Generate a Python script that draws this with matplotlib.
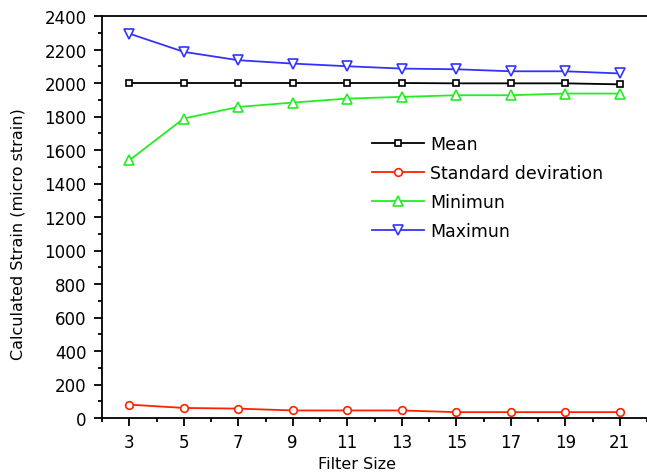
import matplotlib
matplotlib.use("Agg")
import matplotlib.pyplot as plt
from matplotlib.ticker import MultipleLocator

filter_size = [3, 5, 7, 9, 11, 13, 15, 17, 19, 21]
mean_vals = [2000, 2000, 2000, 2000, 2000, 2000, 1998, 1998, 1998, 1992]
std_vals = [80, 60, 56, 45, 45, 45, 35, 35, 35, 35]
min_vals = [1538, 1788, 1857, 1883, 1907, 1917, 1927, 1927, 1937, 1937]
max_vals = [2295, 2186, 2136, 2116, 2100, 2086, 2082, 2070, 2070, 2057]

plt.rcParams['font.family'] = ['DejaVu Sans']

fig = plt.figure(figsize=(6.47, 4.77), dpi=100)
ax = fig.add_axes([102 / 647, 1 - 419 / 477, 545 / 647, 402 / 477])

series = [
    (mean_vals, 'Mean', 'black', 's', 4.5),
    (std_vals, 'Standard deviration', '#ff2200', 'o', 5.5),
    (min_vals, 'Minimun', '#22ee22', '^', 6.5),
    (max_vals, 'Maximun', '#3333ff', 'v', 6.5),
]
for vals, lab, col, mk, ms in series:
    ax.plot(filter_size, vals, color=col, lw=1.3, marker=mk, markersize=ms,
            markerfacecolor='white', markeredgecolor=col, markeredgewidth=1.2,
            label=lab)

ax.set_xlim(2, 22)
ax.set_ylim(0, 2400)
ax.set_xticks(filter_size)
ax.xaxis.set_minor_locator(MultipleLocator(2))
ax.yaxis.set_major_locator(MultipleLocator(200))
ax.yaxis.set_minor_locator(MultipleLocator(100))
ax.tick_params(which='major', direction='out', length=6, width=1.3,
               labelsize=12, pad=5)
ax.tick_params(which='minor', direction='out', length=3, width=1.3)
ax.spines['right'].set_visible(False)
for s in ['left', 'bottom', 'top']:
    ax.spines[s].set_linewidth(1.3)

ax.set_xlabel('Filter Size', fontsize=11.5)
ax.set_ylabel('Calculated Strain (micro strain)', fontsize=11.5)
ax.xaxis.set_label_coords((357 - 102) / 545, -0.095)
ax.yaxis.set_label_coords(-0.14, 0.46)

fig.legend(loc='upper left', bbox_to_anchor=(372 / 647, 1 - 136 / 477),
           frameon=False, fontsize=12.5, handlelength=3.0, handletextpad=0.35,
           labelspacing=0.64, borderpad=0, borderaxespad=0)

fig.savefig('out.png', dpi=100)
